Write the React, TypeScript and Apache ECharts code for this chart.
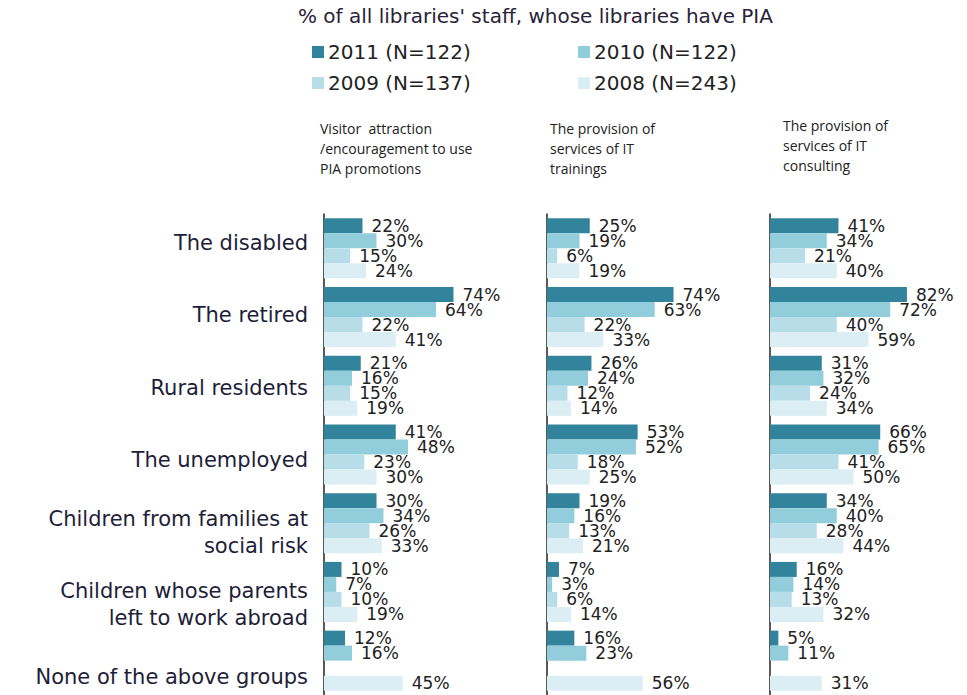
import React, { useEffect, useRef } from "react";
import * as echarts from "echarts";

const titleText = "% of all libraries' staff, whose libraries have PIA";
const seriesNames = ["2011 (N=122)", "2010 (N=122)", "2009 (N=137)", "2008 (N=243)"];
const seriesColors = ["#31849B", "#92CDDC", "#B7DEE8", "#DAEEF3"];

const categories = [
  "The disabled",
  "The retired",
  "Rural residents",
  "The unemployed",
  "Children from families at\nsocial risk",
  "Children whose parents\nleft to work abroad",
  "None of the above groups",
];

const panelTitles = [
  "Visitor  attraction\n/encouragement to use\nPIA promotions",
  "The provision of\nservices of IT\ntrainings",
  "The provision of\nservices of IT\nconsulting",
];

// Panel 1: Visitor attraction / encouragement to use PIA promotions
const visitor2011 = [22, 74, 21, 41, 30, 10, 12];
const visitor2010 = [30, 64, 16, 48, 34, 7, 16];
const visitor2009 = [15, 22, 15, 23, 26, 10, null];
const visitor2008 = [24, 41, 19, 30, 33, 19, 45];

// Panel 2: The provision of services of IT trainings
const trainings2011 = [25, 74, 26, 53, 19, 7, 16];
const trainings2010 = [19, 63, 24, 52, 16, 3, 23];
const trainings2009 = [6, 22, 12, 18, 13, 6, null];
const trainings2008 = [19, 33, 14, 25, 21, 14, 56];

// Panel 3: The provision of services of IT consulting
const consulting2011 = [41, 82, 31, 66, 34, 16, 5];
const consulting2010 = [34, 72, 32, 65, 40, 14, 11];
const consulting2009 = [21, 40, 24, 41, 28, 13, null];
const consulting2008 = [40, 59, 34, 50, 44, 32, 31];

const panels = [
  [visitor2011, visitor2010, visitor2009, visitor2008],
  [trainings2011, trainings2010, trainings2009, trainings2008],
  [consulting2011, consulting2010, consulting2009, consulting2008],
];

export default function App() {
  const ref = useRef<HTMLDivElement>(null);
  useEffect(() => {
    if (!ref.current) return;
    const chart = echarts.init(ref.current, null, { renderer: "svg" });
    const gridLefts = [324, 547, 770];
    const gridWidths = [175, 171, 167];
    const grids: any[] = gridLefts.map((l, i) => ({
      left: l,
      top: 214,
      width: gridWidths[i],
      height: 483,
    }));
    // an extra grid holding only the category labels (spaced like the reference)
    grids.push({ left: 324, top: 243, width: 175, height: 434 });
    const xAxes = grids.map((_, i) => ({
      type: "value",
      gridIndex: i,
      min: 0,
      max: 100,
      show: false,
    }));
    const yAxes = grids.map((_, i) => ({
      type: "category",
      gridIndex: i,
      inverse: true,
      boundaryGap: i < 3,
      data: categories,
      axisLine: { show: i < 3, lineStyle: { color: "#222", width: 1.5 } },
      axisTick: { show: false },
      axisLabel: {
        show: i === 3,
        margin: 16,
        fontSize: 21,
        lineHeight: 27,
        fontFamily: "DejaVu Sans",
        color: "#221d38",
        align: "right",
      },
      splitLine: { show: false },
    }));
    const series: any[] = [];
    panels.forEach((vals, p) => {
      vals.forEach((arr, s) => {
        series.push({
          type: "bar",
          name: seriesNames[s],
          xAxisIndex: p,
          yAxisIndex: p,
          data: arr.map((v) => (v === null ? "-" : v)),
          barWidth: 15,
          barGap: "0%",
          itemStyle: { color: seriesColors[s] },
          label: {
            show: true,
            position: "right",
            distance: 9,
            formatter: "{c}%",
            fontSize: 17,
            fontFamily: "DejaVu Sans",
            color: "#222",
          },
        });
      });
    });
    const legendPos = [
      [312, 42],
      [578, 42],
      [312, 73],
      [578, 73],
    ];
    const legends = seriesNames.map((n, i) => ({
      data: [n],
      left: legendPos[i][0],
      top: legendPos[i][1],
      icon: "rect",
      itemWidth: 12,
      itemHeight: 12,
      itemGap: 0,
      padding: 0,
      selectedMode: false,
      textStyle: { fontSize: 20, fontFamily: "DejaVu Sans", color: "#222", padding: [0, 0, 0, -1] },
    }));
    const headerX = [320, 550, 783];
    const headerY = [118, 118, 115];
    chart.setOption({
      animation: false,
      backgroundColor: "#fff",
      grid: grids,
      xAxis: xAxes,
      yAxis: yAxes,
      legend: legends,
      series,
      graphic: [
        {
          type: "text",
          left: 298,
          top: 6,
          style: { text: titleText, fontSize: 20, fontFamily: "DejaVu Sans", fill: "#2a2238" },
        },
        ...panelTitles.map((t, i) => ({
          type: "text",
          x: headerX[i],
          y: headerY[i],
          style: { text: t, fontSize: 14, lineHeight: 20, fontFamily: "Open Sans", fill: "#222" },
        })),
      ],
    });
    return () => chart.dispose();
  }, []);
  return (
    <div
      ref={ref}
      style={{ position: "absolute", left: 0, top: 0, width: 967, height: 695 }}
    />
  );
}
